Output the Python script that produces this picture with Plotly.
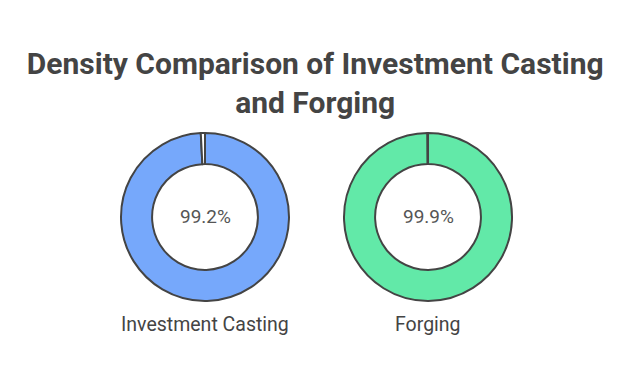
import plotly.graph_objects as go

categories = ["Investment Casting", "Forging"]
density_pct = [99.2, 99.9]
center_labels = ["99.2%", "99.9%"]
colors = ["#76a8fb", "#62e9a8"]

fig = go.Figure()
domains_x = [[0.1777, 0.4418], [0.5283, 0.7925]]
dom_y = [0.237, 0.6745]
for i, (cat, val) in enumerate(zip(categories, density_pct)):
    fig.add_trace(go.Pie(
        values=[val, 100 - val],
        labels=[cat, "Remainder"],
        hole=0.63,
        sort=False,
        direction="clockwise",
        rotation=0,
        marker=dict(colors=[colors[i], "#ffffff"], line=dict(color="#444444", width=2)),
        textinfo="none",
        hoverinfo="label+percent",
        showlegend=False,
        domain=dict(x=domains_x[i], y=dom_y),
    ))
    cx = (domains_x[i][0] + domains_x[i][1]) / 2
    fig.add_annotation(x=cx, y=(dom_y[0] + dom_y[1]) / 2, xref="paper", yref="paper",
                       xanchor="center", yanchor="middle",
                       text=center_labels[i], showarrow=False,
                       font=dict(family="Roboto", size=19, color="#555555"))
    fig.add_annotation(x=cx, y=0.1745, xref="paper", yref="paper",
                       xanchor="center", yanchor="middle",
                       text=cat, showarrow=False,
                       font=dict(family="Roboto", size=19.5, color="#444444"))

fig.update_layout(
    width=636, height=384,
    margin=dict(l=0, r=0, t=0, b=0),
    paper_bgcolor="white", plot_bgcolor="white",
    title=dict(text="<b>Density Comparison of Investment Casting<br>and Forging</b>",
               x=0.483, xanchor="center", y=0.828, yanchor="middle",
               font=dict(family="Roboto", size=30, color="#444444")),
)
fig.write_html("out.html")
